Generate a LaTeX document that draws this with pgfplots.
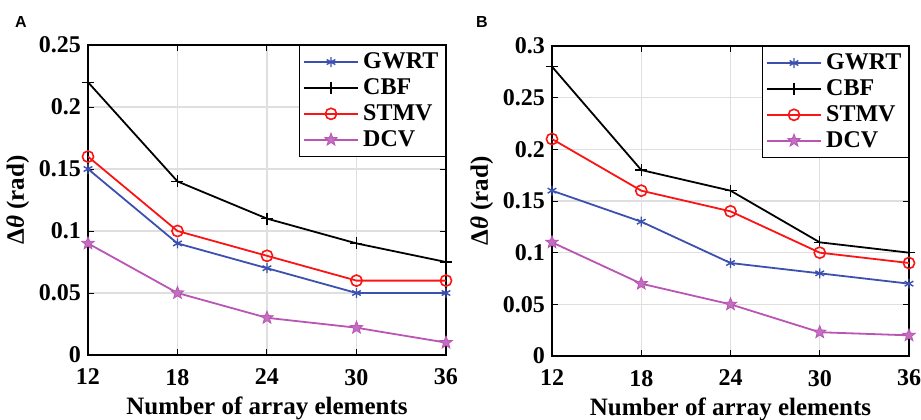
\documentclass[border=0pt]{standalone}
\usepackage{pgfplots}
\pgfplotsset{compat=1.18}
\usepackage{fontspec}
\setmainfont{Liberation Serif}
\newfontfamily\arialfont{Liberation Sans}
\definecolor{cblue}{RGB}{60,80,175}
\definecolor{cred}{RGB}{250,20,20}
\definecolor{cmag}{RGB}{185,85,180}
\pgfdeclareplotmark{fstar}{%
  \pgfpathmoveto{\pgfpointpolar{90}{\pgfplotmarksize}}%
  \pgfpathlineto{\pgfpointpolar{126}{0.42\pgfplotmarksize}}%
  \pgfpathlineto{\pgfpointpolar{162}{\pgfplotmarksize}}%
  \pgfpathlineto{\pgfpointpolar{198}{0.42\pgfplotmarksize}}%
  \pgfpathlineto{\pgfpointpolar{234}{\pgfplotmarksize}}%
  \pgfpathlineto{\pgfpointpolar{270}{0.42\pgfplotmarksize}}%
  \pgfpathlineto{\pgfpointpolar{306}{\pgfplotmarksize}}%
  \pgfpathlineto{\pgfpointpolar{342}{0.42\pgfplotmarksize}}%
  \pgfpathlineto{\pgfpointpolar{18}{\pgfplotmarksize}}%
  \pgfpathlineto{\pgfpointpolar{54}{0.42\pgfplotmarksize}}%
  \pgfpathclose
  \pgfusepathqfillstroke}
\pgfplotsset{
  myax/.style={
    scale only axis,
    width=179pt, height=155pt,
    xmin=12, xmax=36,
    xtick={12,18,24,30,36},
    grid=major,
    major grid style={draw=gray!25, line width=0.6pt},
    axis line style={line width=0.6pt},
    tick style={black, line width=0.5pt},
    major tick length=3pt,
    tick align=inside,
    scaled y ticks=false,
    /pgf/number format/assume math mode=true,
    tick label style={font=\bfseries\fontsize{12}{12}\selectfont},
    xticklabel style={yshift=-3.5pt},
    xlabel={\bfseries Number of array elements},
    ylabel={\bfseries Δ\textit{θ} (rad)},
    label style={font=\bfseries\fontsize{12.5}{12.5}\selectfont},
    xlabel style={yshift=1pt},
    ylabel style={yshift=-2pt},
    legend style={at={(1,1)}, anchor=north east, draw=black, line width=0.6pt,
      font=\bfseries\fontsize{12}{13}\selectfont, inner sep=1.5pt,
      row sep=-0.5pt},
    legend cell align=left,
    legend image code/.code={
      \draw[mark repeat=2,mark phase=2] plot coordinates {(0cm,0cm) (0.48cm,0cm) (0.96cm,0cm)};},
    every axis plot/.append style={line width=0.9pt},
  }
}
\begin{document}
\begin{tikzpicture}
\path[use as bounding box] (0,0) rectangle (460.5pt,209.5pt);
\node[font=\arialfont\bfseries\fontsize{8}{8}\selectfont] at (10.5pt,198.5pt) {A};
\node[font=\arialfont\bfseries\fontsize{8}{8}\selectfont] at (241pt,198.5pt) {B};
\begin{axis}[myax, at={(44pt,32pt)}, anchor=south west,
  ymin=0, ymax=0.25,
  ytick={0,0.05,0.1,0.15,0.2,0.25},
  yticklabels={0,0.05,0.1,0.15,0.2,0.25}]
\addplot[cblue, mark=asterisk, mark size=2.5pt, mark options={line width=0.7pt}] coordinates {(12,0.15) (18,0.09) (24,0.07) (30,0.05) (36,0.05)};
\addlegendentry{GWRT}
\addplot[black, mark=+, mark size=3pt, mark options={line width=0.7pt}] coordinates {(12,0.22) (18,0.14) (24,0.11) (30,0.09) (36,0.075)};
\addlegendentry{CBF}
\addplot[cred, mark=o, mark size=2.8pt, mark options={line width=0.8pt}] coordinates {(12,0.16) (18,0.10) (24,0.08) (30,0.06) (36,0.06)};
\addlegendentry{STMV}
\addplot[cmag, mark=fstar, mark size=3.3pt, mark options={fill=cmag!85, line width=0.4pt}] coordinates {(12,0.09) (18,0.05) (24,0.03) (30,0.022) (36,0.01)};
\addlegendentry{DCV}
\end{axis}
\begin{axis}[myax, at={(276pt,31.5pt)}, anchor=south west, width=178.5pt,
  ymin=0, ymax=0.3,
  ytick={0,0.05,0.1,0.15,0.2,0.25,0.3},
  yticklabels={0,0.05,0.1,0.15,0.2,0.25,0.3}]
\addplot[cblue, mark=asterisk, mark size=2.5pt, mark options={line width=0.7pt}] coordinates {(12,0.16) (18,0.13) (24,0.09) (30,0.08) (36,0.07)};
\addlegendentry{GWRT}
\addplot[black, mark=+, mark size=3pt, mark options={line width=0.7pt}] coordinates {(12,0.28) (18,0.18) (24,0.16) (30,0.11) (36,0.10)};
\addlegendentry{CBF}
\addplot[cred, mark=o, mark size=2.8pt, mark options={line width=0.8pt}] coordinates {(12,0.21) (18,0.16) (24,0.14) (30,0.10) (36,0.09)};
\addlegendentry{STMV}
\addplot[cmag, mark=fstar, mark size=3.3pt, mark options={fill=cmag!85, line width=0.4pt}] coordinates {(12,0.11) (18,0.07) (24,0.05) (30,0.023) (36,0.02)};
\addlegendentry{DCV}
\end{axis}
\end{tikzpicture}
\end{document}
